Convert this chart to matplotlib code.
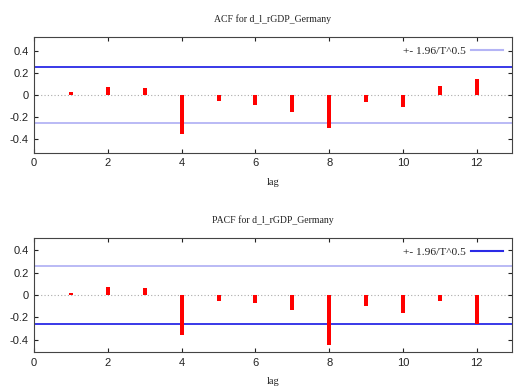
import matplotlib
matplotlib.use("Agg")
import matplotlib.pyplot as plt
from matplotlib.lines import Line2D

lags = [1, 2, 3, 4, 5, 6, 7, 8, 9, 10, 11, 12]
acf_vals = [0.02, 0.067, 0.06, -0.36, -0.055, -0.094, -0.16, -0.30, -0.07, -0.11, 0.08, 0.14]
pacf_vals = [0.02, 0.07, 0.065, -0.36, -0.057, -0.07, -0.135, -0.45, -0.10, -0.16, -0.057, -0.26]
band = 0.255
titles = ["ACF for d_l_rGDP_Germany", "PACF for d_l_rGDP_Germany"]
legend_label = "+- 1.96/T^0.5"
xticks = [0, 2, 4, 6, 8, 10, 12]
yticks = [-0.4, -0.2, 0, 0.2, 0.4]
ytick_labels = ["-0.4", "-0.2", "0", "0.2", "0.4"]

DARK = "#2a2ae6"
LIGHT = "#b4b4f5"

fig = plt.figure(figsize=(5.16, 3.9), dpi=100)
positions = [[0.066, 0.608, 0.926, 0.297], [0.066, 0.097, 0.926, 0.293]]
colors = [(DARK, LIGHT, LIGHT), (LIGHT, DARK, DARK)]
ylims = [(-0.53, 0.525), (-0.51, 0.51)]
series = [acf_vals, pacf_vals]

for i in range(2):
    ax = fig.add_axes(positions[i])
    up_c, lo_c, leg_c = colors[i]
    ax.axhline(0, color="#aaaaaa", lw=0.8, ls=(0, (1, 2)), zorder=1)
    ax.axhline(band, color=up_c, lw=1.3, zorder=2)
    ax.axhline(-band, color=lo_c, lw=1.3, zorder=2)
    ax.bar(lags, series[i], width=0.11, color="red", zorder=3)
    ax.set_xlim(0, 12.95)
    ax.set_ylim(*ylims[i])
    ax.set_xticks(xticks)
    ax.set_yticks(yticks)
    ax.set_yticklabels(ytick_labels)
    ax.tick_params(direction="in", top=True, right=True, length=3, width=0.8,
                   labelsize=8, colors="#222222", pad=4)
    for lab in ax.get_xticklabels() + ax.get_yticklabels():
        lab.set_family("Liberation Sans")
    for s in ax.spines.values():
        s.set_color("#444444")
        s.set_linewidth(0.8)
    ax.set_title(titles[i], fontsize=7, family="Liberation Serif", pad=11, color="#222222")
    ax.set_xlabel("lag", fontsize=7.5, family="Liberation Serif", labelpad=7, color="#222222")
    h = Line2D([], [], color=leg_c, lw=1.5)
    ax.legend([h], [legend_label], loc="upper right", frameon=False, markerfirst=False,
              prop={"family": "Liberation Serif", "size": 8.2}, handlelength=2.8,
              borderaxespad=0.4, handletextpad=0.4, labelcolor="#222222")

fig.savefig("out.png", dpi=100)
